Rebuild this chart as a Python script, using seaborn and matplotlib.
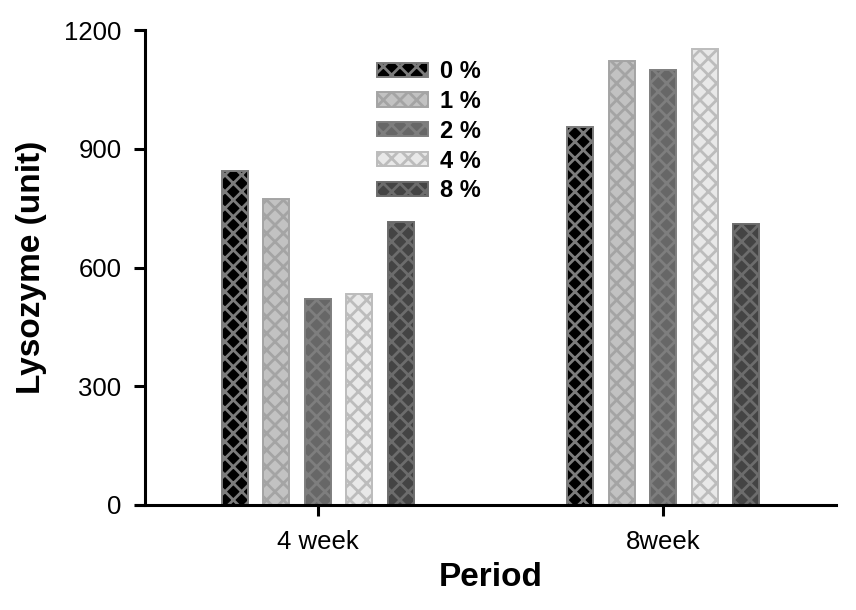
import matplotlib
matplotlib.use("Agg")
import matplotlib.pyplot as plt
import matplotlib.patches as mpatches
import seaborn as sns
import pandas as pd

periods = ["4 week", "8week"]
concentrations = ["0 %", "1 %", "2 %", "4 %", "8 %"]
values_4week = [845, 772, 521, 532, 714]
values_8week = [954, 1121, 1099, 1152, 709]
yticks = [0, 300, 600, 900, 1200]

face_colors = ["#000000", "#c2c2c2", "#676767", "#e8e8e8", "#444444"]
hatch_colors = ["#7c7c7c", "#a4a4a4", "#7e7e7e", "#bcbcbc", "#6c6c6c"]

rows = []
for p, vals in zip(periods, [values_4week, values_8week]):
    for c, v in zip(concentrations, vals):
        rows.append({"Period": p, "Conc": c, "Value": v})
df = pd.DataFrame(rows)

sns.set_style("ticks")
plt.rcParams["font.family"] = ["Liberation Sans", "DejaVu Sans"]
plt.rcParams["hatch.linewidth"] = 2.0
plt.rcParams["text.color"] = "black"
plt.rcParams["axes.labelcolor"] = "black"

HATCH = "xx"

fig = plt.figure(figsize=(8.56, 6.10), dpi=100)
ax = fig.add_axes([145 / 856, 1 - 505 / 610, (836 - 145) / 856, (505 - 30) / 610])

sns.barplot(data=df, x="Period", y="Value", hue="Conc", order=periods,
            hue_order=concentrations, palette=face_colors, width=0.6, gap=0.375,
            errorbar=None, legend=False, ax=ax, saturation=1)

for cont, fc, hc in zip(ax.containers, face_colors, hatch_colors):
    for bar in cont:
        bar.set_facecolor(fc)
        bar.set_edgecolor(hc)
        bar.set_hatch(HATCH)
        bar.set_linewidth(1.4)

ax.set_xlim(-0.5, 1.5)
ax.set_ylim(0, 1200)
ax.set_yticks(yticks)
ax.set_yticklabels([str(t) for t in yticks])
for s in ["top", "right"]:
    ax.spines[s].set_visible(False)
for s in ["left", "bottom"]:
    ax.spines[s].set_linewidth(2.2)
    ax.spines[s].set_color("black")
ax.spines["bottom"].set_bounds(-0.525, 1.5)

ax.tick_params(axis="both", direction="out", length=8, width=2.2, labelsize=18.5,
               colors="black", labelcolor="black")
ax.tick_params(axis="y", pad=9)
ax.tick_params(axis="x", pad=10)

ax.set_xlabel("Period", fontsize=24, fontweight="bold", labelpad=6, color="black")
ax.set_ylabel("Lysozyme (unit)", fontsize=24, fontweight="bold", labelpad=12, color="black")

handles = []
for c, fc, hc in zip(concentrations, face_colors, hatch_colors):
    handles.append(mpatches.Patch(facecolor=fc, edgecolor=hc, hatch=HATCH,
                                  linewidth=1.4, label=c))
leg = ax.legend(handles=handles, loc="upper left", bbox_to_anchor=(377 / 856, 1 - 60 / 610),
                bbox_transform=fig.transFigure, frameon=False,
                prop={"size": 17, "weight": "bold"},
                handlelength=2.15, handleheight=0.55, labelspacing=0.29, handletextpad=0.5,
                borderpad=0, borderaxespad=0)
for t in leg.get_texts():
    t.set_color("black")

fig.savefig("out.png", dpi=100)
